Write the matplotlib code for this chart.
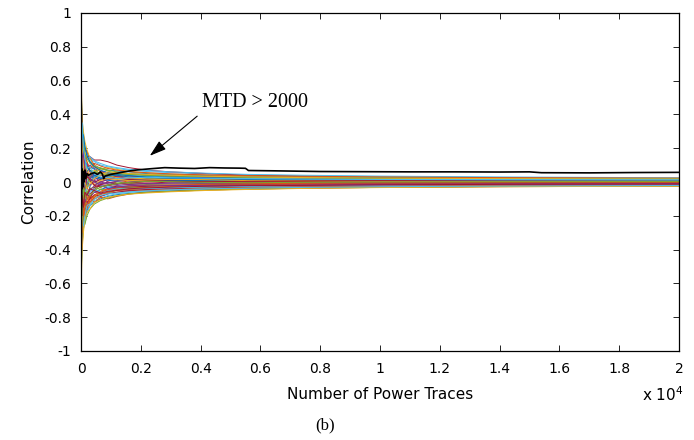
import matplotlib
matplotlib.use("Agg")
import matplotlib.pyplot as plt

# ---------------- data ----------------
# checkpoints (number of traces) at which wrong-key correlations were read
wrong_traces = [2, 15, 40, 80, 130, 200, 300, 450, 650, 900, 1200, 1600,
                2200, 3000, 4200, 5600, 7500, 10000, 14000, 20000]

wrong_key_corr = [
    [1, 0.45, 0.30, 0.22, 0.20, 0.15, 0.12, 0.10, 0.08, 0.07, 0.065, 0.06, 0.05, 0.045, 0.04, 0.035, 0.03, 0.026, 0.022, 0.018],
    [-1, -0.42, -0.30, -0.24, -0.18, -0.16, -0.12, -0.10, -0.085, -0.07, -0.06, -0.055, -0.05, -0.045, -0.04, -0.035, -0.03, -0.026, -0.022, -0.02],
    [1, 0.15, 0.32, 0.26, 0.18, 0.12, 0.06, 0.03, 0.01, 0.02, 0.03, 0.02, 0.015, 0.01, 0.008, 0.01, 0.012, 0.012, 0.011, 0.01],
    [-1, 0.10, -0.15, -0.05, 0.06, -0.04, 0.03, 0.05, 0.04, 0.03, 0.035, 0.04, 0.035, 0.03, 0.025, 0.02, 0.018, 0.015, 0.012, 0.01],
    [1, -0.30, -0.18, -0.12, -0.08, -0.10, -0.08, -0.09, -0.07, -0.065, -0.05, -0.045, -0.04, -0.032, -0.028, -0.024, -0.02, -0.018, -0.015, -0.013],
    [-1, 0.50, 0.38, 0.28, 0.22, 0.17, 0.14, 0.12, 0.10, 0.09, 0.08, 0.07, 0.062, 0.055, 0.048, 0.042, 0.037, 0.032, 0.027, 0.022],
    [1, 0.22, 0.08, 0.16, 0.20, 0.18, 0.14, 0.10, 0.06, 0.04, 0.03, 0.035, 0.03, 0.025, 0.024, 0.025, 0.022, 0.019, 0.016, 0.014],
    [-1, -0.50, -0.36, -0.28, -0.22, -0.17, -0.14, -0.12, -0.10, -0.085, -0.075, -0.068, -0.06, -0.052, -0.045, -0.04, -0.035, -0.03, -0.026, -0.022],
    [1, 0.28, 0.14, -0.06, -0.14, -0.09, -0.03, 0.03, 0.06, 0.05, 0.04, 0.03, 0.02, 0.012, 0.014, 0.018, 0.02, 0.02, 0.02, 0.019],
    [-1, -0.35, -0.38, -0.28, -0.20, -0.12, -0.14, -0.08, -0.04, -0.05, -0.035, -0.02, -0.025, -0.03, -0.024, -0.018, -0.018, -0.016, -0.015, -0.014],
    [1, 0.45, 0.30, 0.15, 0.04, 0.08, 0.10, 0.08, 0.065, 0.055, 0.05, 0.042, 0.038, 0.034, 0.03, 0.03, 0.027, 0.024, 0.021, 0.018],
    [-1, 0.00, 0.12, 0.22, 0.15, 0.09, 0.06, 0.01, -0.03, -0.015, 0.00, -0.008, -0.015, -0.012, -0.008, -0.009, -0.006, -0.005, -0.006, -0.006],
    [1, -0.48, -0.36, -0.24, -0.25, -0.18, -0.14, -0.11, -0.095, -0.08, -0.07, -0.062, -0.055, -0.048, -0.042, -0.038, -0.034, -0.03, -0.026, -0.023],
    [-1, 0.30, 0.16, 0.08, 0.12, 0.15, 0.15, 0.13, 0.13, 0.12, 0.10, 0.085, 0.07, 0.06, 0.05, 0.04, 0.032, 0.026, 0.02, 0.016],
    [1, 0.08, -0.08, 0.09, 0.03, 0.00, -0.04, -0.06, -0.045, -0.03, -0.035, -0.03, -0.026, -0.022, -0.016, -0.012, -0.009, -0.007, -0.006, -0.005],
    [-1, -0.15, 0.22, 0.12, 0.05, 0.07, 0.03, -0.015, 0.00, 0.015, 0.01, 0.00, 0.006, 0.012, 0.015, 0.012, 0.009, 0.007, 0.005, 0.004],
    [1, 0.40, 0.18, 0.24, 0.12, 0.05, 0.08, 0.10, 0.075, 0.085, 0.075, 0.062, 0.054, 0.046, 0.04, 0.035, 0.031, 0.028, 0.025, 0.022],
    [-1, -0.40, -0.22, -0.15, -0.17, -0.13, -0.09, -0.06, -0.07, -0.06, -0.045, -0.05, -0.044, -0.037, -0.032, -0.028, -0.025, -0.022, -0.019, -0.017],
    [1, 0.25, 0.28, 0.18, 0.08, 0.10, 0.07, 0.06, 0.08, 0.065, 0.05, 0.045, 0.032, 0.025, 0.018, 0.012, 0.009, 0.006, 0.004, 0.003],
    [-1, -0.08, -0.26, -0.18, -0.08, -0.03, 0.015, 0.00, -0.015, -0.03, -0.022, -0.026, -0.03, -0.026, -0.022, -0.018, -0.015, -0.014, -0.012, -0.01],
    [1, -0.22, 0.08, -0.03, -0.09, -0.06, -0.10, -0.075, -0.085, -0.07, -0.06, -0.052, -0.045, -0.04, -0.035, -0.03, -0.026, -0.022, -0.019, -0.016],
    [-1, 0.32, 0.08, 0.03, 0.09, 0.06, 0.09, 0.075, 0.045, 0.038, 0.045, 0.05, 0.045, 0.04, 0.035, 0.03, 0.028, 0.025, 0.022, 0.02],
    [1, -0.42, -0.32, -0.18, -0.12, -0.15, -0.09, -0.12, -0.09, -0.10, -0.085, -0.072, -0.06, -0.055, -0.048, -0.042, -0.037, -0.032, -0.028, -0.024],
    [-1, 0.55, 0.36, 0.30, 0.24, 0.19, 0.14, 0.09, 0.06, 0.03, 0.045, 0.03, 0.015, 0.018, 0.01, 0.007, 0.005, 0.004, 0.006, 0.007],
    [1, 0.18, 0.03, -0.12, -0.06, 0.015, 0.045, 0.015, 0.03, 0.00, -0.015, 0.00, 0.008, 0.00, -0.006, -0.003, 0.00, 0.003, 0.004, 0.005],
    [-1, -0.48, -0.34, -0.22, -0.25, -0.20, -0.16, -0.13, -0.11, -0.095, -0.082, -0.07, -0.062, -0.055, -0.048, -0.042, -0.036, -0.032, -0.027, -0.023],
    [1, 0.44, 0.20, 0.17, 0.14, 0.13, 0.15, 0.125, 0.11, 0.095, 0.085, 0.075, 0.068, 0.06, 0.052, 0.045, 0.04, 0.035, 0.03, 0.025],
    [-1, -0.28, -0.12, 0.06, 0.00, -0.03, -0.07, -0.045, -0.015, 0.00, -0.008, -0.015, -0.008, 0.00, 0.006, 0.005, 0.003, 0.00, -0.003, -0.004],
    [1, 0.34, 0.22, 0.06, -0.03, 0.03, 0.00, 0.03, 0.015, 0.018, 0.022, 0.018, 0.012, 0.008, 0.01, 0.009, 0.011, 0.012, 0.013, 0.013],
    [-1, 0.14, 0.28, 0.22, 0.15, 0.12, 0.08, 0.11, 0.095, 0.08, 0.07, 0.062, 0.055, 0.048, 0.042, 0.038, 0.034, 0.03, 0.026, 0.023],
    [1, -0.55, -0.40, -0.30, -0.22, -0.18, -0.16, -0.12, -0.105, -0.09, -0.08, -0.072, -0.065, -0.058, -0.05, -0.044, -0.038, -0.033, -0.028, -0.025],
    [-1, 0.40, 0.14, 0.00, 0.07, 0.11, 0.06, 0.03, 0.00, 0.015, 0.03, 0.022, 0.015, 0.02, 0.017, 0.014, 0.012, 0.011, 0.01, 0.009],
    [1, -0.12, -0.28, -0.21, -0.16, -0.07, -0.04, -0.03, -0.045, -0.05, -0.042, -0.035, -0.03, -0.032, -0.028, -0.025, -0.021, -0.018, -0.016, -0.013],
    [-1, -0.20, 0.03, 0.14, 0.11, 0.03, -0.03, 0.03, 0.045, 0.055, 0.05, 0.042, 0.035, 0.028, 0.022, 0.018, 0.015, 0.014, 0.012, 0.011],
    [1, 0.03, -0.20, -0.14, -0.11, -0.12, -0.10, -0.03, -0.015, -0.02, -0.028, -0.03, -0.025, -0.02, -0.018, -0.016, -0.014, -0.011, -0.009, -0.008],
    [-1, 0.35, 0.26, 0.12, 0.09, 0.04, 0.02, 0.04, 0.025, 0.01, 0.005, 0.012, 0.02, 0.024, 0.02, 0.016, 0.015, 0.013, 0.012, 0.011],
    [1, -0.10, -0.05, -0.16, -0.20, -0.15, -0.11, -0.08, -0.055, -0.04, -0.045, -0.04, -0.032, -0.026, -0.02, -0.017, -0.015, -0.013, -0.012, -0.011],
    [-1, 0.20, 0.10, 0.14, 0.06, 0.02, 0.05, 0.07, 0.05, 0.04, 0.025, 0.018, 0.022, 0.018, 0.014, 0.008, 0.006, 0.005, 0.004, 0.002],
    [1, -0.35, -0.15, -0.02, 0.04, 0.00, -0.02, 0.01, -0.01, -0.005, 0.005, 0.01, 0.006, 0.00, -0.004, -0.008, -0.01, -0.01, -0.01, -0.009],
    [-1, 0.48, 0.34, 0.25, 0.16, 0.14, 0.11, 0.09, 0.085, 0.07, 0.06, 0.05, 0.04, 0.035, 0.032, 0.028, 0.025, 0.021, 0.018, 0.015],
    [1, 0.06, 0.10, 0.02, -0.05, -0.08, -0.06, -0.04, -0.06, -0.05, -0.04, -0.042, -0.038, -0.034, -0.03, -0.026, -0.024, -0.021, -0.018, -0.016],
    [-1, -0.32, -0.25, -0.10, -0.02, 0.03, 0.02, 0.00, 0.015, 0.025, 0.02, 0.015, 0.01, 0.005, 0.002, 0.004, 0.006, 0.008, 0.007, 0.006],
    [1, 0.38, 0.24, 0.28, 0.21, 0.16, 0.12, 0.09, 0.07, 0.055, 0.045, 0.038, 0.03, 0.028, 0.03, 0.027, 0.024, 0.021, 0.018, 0.016],
    [-1, -0.05, -0.12, -0.20, -0.15, -0.11, -0.08, -0.10, -0.075, -0.06, -0.05, -0.045, -0.05, -0.044, -0.038, -0.033, -0.029, -0.025, -0.021, -0.018],
    [1, 0.12, 0.18, 0.05, 0.10, 0.06, 0.00, -0.02, 0.01, 0.02, 0.015, 0.008, 0.012, 0.015, 0.018, 0.02, 0.018, 0.016, 0.014, 0.012],
    [-1, -0.45, -0.20, -0.08, -0.12, -0.07, -0.05, -0.02, 0.00, -0.01, -0.02, -0.015, -0.008, -0.01, -0.012, -0.01, -0.008, -0.007, -0.008, -0.008],
    [1, 0.30, 0.06, -0.10, -0.04, -0.02, 0.04, 0.06, 0.05, 0.045, 0.05, 0.045, 0.04, 0.036, 0.032, 0.028, 0.025, 0.022, 0.019, 0.017],
    [-1, 0.02, -0.20, -0.26, -0.20, -0.14, -0.13, -0.10, -0.08, -0.07, -0.065, -0.058, -0.052, -0.046, -0.04, -0.036, -0.032, -0.028, -0.024, -0.021],
    [1, 0.50, 0.26, 0.12, 0.06, 0.04, 0.01, -0.02, -0.03, -0.02, -0.01, -0.005, 0.00, 0.004, 0.00, -0.002, -0.004, -0.005, -0.005, -0.004],
    [-1, 0.25, 0.04, 0.08, 0.13, 0.09, 0.07, 0.04, 0.02, 0.035, 0.04, 0.03, 0.025, 0.022, 0.02, 0.018, 0.016, 0.015, 0.013, 0.012],
    [1, -0.25, -0.30, -0.14, -0.06, -0.09, -0.12, -0.09, -0.06, -0.045, -0.035, -0.025, -0.02, -0.018, -0.014, -0.01, -0.008, -0.006, -0.005, -0.004],
    [-1, 0.42, 0.20, 0.10, 0.00, -0.04, -0.01, 0.02, 0.04, 0.06, 0.055, 0.05, 0.045, 0.04, 0.034, 0.03, 0.026, 0.023, 0.02, 0.018],
    [1, -0.05, 0.14, 0.18, 0.08, 0.05, 0.02, 0.00, -0.02, -0.04, -0.03, -0.022, -0.018, -0.02, -0.022, -0.02, -0.018, -0.015, -0.013, -0.012],
    [-1, -0.38, -0.18, -0.04, -0.10, -0.05, -0.08, -0.05, -0.03, -0.02, -0.01, -0.002, 0.004, 0.002, -0.002, -0.004, -0.002, 0.00, 0.001, 0.002],
    [1, 0.20, 0.35, 0.20, 0.14, 0.08, 0.09, 0.05, 0.03, 0.028, 0.02, 0.025, 0.028, 0.025, 0.022, 0.02, 0.017, 0.015, 0.014, 0.013],
    [-1, -0.18, -0.08, -0.15, -0.06, -0.08, -0.04, -0.05, -0.065, -0.055, -0.05, -0.04, -0.035, -0.03, -0.025, -0.022, -0.02, -0.017, -0.014, -0.012],
]

correct_traces = [2, 5, 10, 20, 30, 45, 60, 80, 100, 130, 160, 200, 250, 350, 450,
                  550, 650, 720, 760, 800, 1000, 1300, 1600, 1900, 2300, 2800,
                  3300, 3800, 4300, 4800, 5300, 5500, 5600, 6500, 8000, 9500,
                  11000, 12500, 14000, 15000, 15400, 17000, 18500, 20000]
correct_corr = [-1.0, 0.6, -0.2, 0.08, -0.04, 0.07, -0.03, 0.06, 0.0, 0.07, 0.02,
                0.05, 0.04, 0.05, 0.055, 0.045, 0.06, 0.045, 0.02, 0.035, 0.045,
                0.055, 0.065, 0.072, 0.078, 0.085, 0.082, 0.08, 0.085, 0.083,
                0.082, 0.081, 0.068, 0.066, 0.062, 0.061, 0.06, 0.06, 0.059,
                0.06, 0.055, 0.054, 0.056, 0.057]

x_ticks = [0, 2000, 4000, 6000, 8000, 10000, 12000, 14000, 16000, 18000, 20000]
x_tick_labels = ['0', '0.2', '0.4', '0.6', '0.8', '1', '1.2', '1.4', '1.6', '1.8', '2']
y_ticks = [1, 0.8, 0.6, 0.4, 0.2, 0, -0.2, -0.4, -0.6, -0.8, -1]
y_tick_labels = ['1', '0.8', '0.6', '0.4', '0.2', '0', '-0.2', '-0.4', '-0.6', '-0.8', '-1']

line_colors = ['#0072BD', '#D95319', '#EDB120', '#7E2F8E', '#77AC30', '#4DBEEE', '#A2142F']

# ---------------- plot ----------------
fig = plt.figure(figsize=(6.94, 4.40), dpi=100)
ax = fig.add_axes([81/694, 1-351/440, (679-81)/694, (351-13)/440])

for i, vals in enumerate(wrong_key_corr):
    ax.plot(wrong_traces, vals, color=line_colors[i % 7], lw=0.7)
ax.plot(correct_traces, correct_corr, color='black', lw=1.2)

ax.set_xlim(0, 20000)
ax.set_ylim(-1, 1)
ax.set_xticks(x_ticks)
ax.set_xticklabels(x_tick_labels)
ax.set_yticks(y_ticks)
ax.set_yticklabels(y_tick_labels)
ax.tick_params(direction='in', length=4, width=0.6, top=True, right=True,
               labelsize=10, colors='black')
ax.tick_params(axis='x', pad=8)
ax.tick_params(axis='y', pad=7)
for s in ax.spines.values():
    s.set_linewidth(0.9)

ax.set_ylabel('Correlation', fontsize=11, labelpad=6)
ax.set_xlabel('Number of Power Traces', fontsize=11, labelpad=8)
fig.text(663/694, 1-395/440, r'x 10$^4$', fontsize=11, ha='center', va='center')
fig.text(325/694, 1-425/440, '(b)', fontsize=12, ha='center', va='center',
         family='Liberation Serif')

ax.annotate('MTD > 2000', xy=(2300, 0.155), xytext=(4050, 0.47),
            fontsize=14.5, family='Liberation Serif', ha='left', va='center',
            arrowprops=dict(arrowstyle='-|>,head_length=0.7,head_width=0.22',
                            color='black', lw=0.8, shrinkA=2, shrinkB=0,
                            relpos=(0.0, 0.0)))

fig.savefig('out.png', dpi=100)
